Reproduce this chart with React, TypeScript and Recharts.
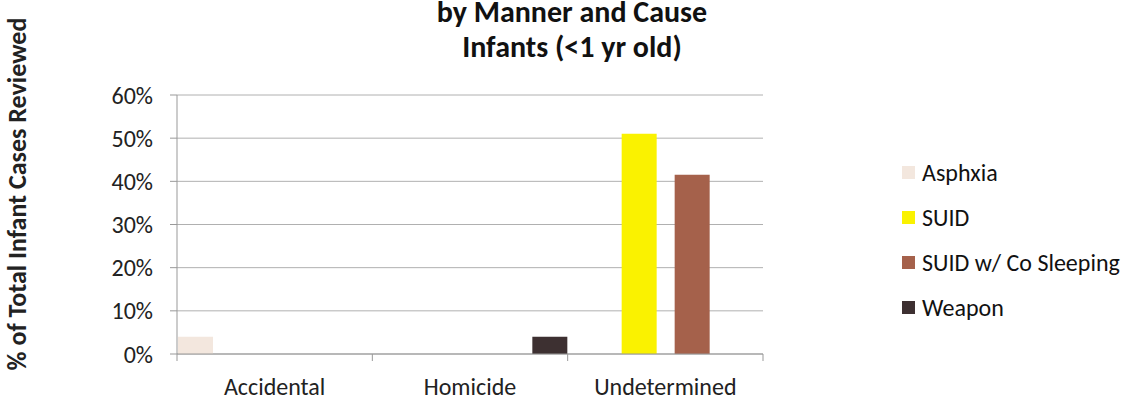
import { BarChart, Bar, XAxis, YAxis, CartesianGrid } from 'recharts';

const categories = ['Accidental', 'Homicide', 'Undetermined'];
const asphxia = [4, 0, 0];
const suid = [0, 0, 51];
const suidCoSleeping = [0, 0, 41.5];
const weapon = [0, 4, 0];
const yTicks = [0, 10, 20, 30, 40, 50, 60];

const seriesKeys = ['asphxia', 'suid', 'suidCo', 'weapon'];
const seriesNames = ['Asphxia', 'SUID', 'SUID w/ Co Sleeping', 'Weapon'];
const seriesColors = ['#f3e7de', '#faf200', '#a5614b', '#3d3031'];

const data = categories.map((c, i) => ({
  name: c,
  asphxia: asphxia[i],
  suid: suid[i],
  suidCo: suidCoSleeping[i],
  weapon: weapon[i],
}));

const FONT = 'Carlito, Calibri, Lato, sans-serif';
const TICK_SIZE = 7;
const TICK_MARGIN = 17;

// category label plus tick marks on the band edges (Excel style)
const CategoryTick = (props: any) => {
  const { x, y, payload, index, visibleTicksCount } = props;
  const half = payload.offset || 0;
  const axisY = y - TICK_SIZE - TICK_MARGIN;
  const last = index === visibleTicksCount - 1;
  return (
    <g>
      <line x1={x - half} x2={x - half} y1={axisY} y2={axisY + TICK_SIZE} stroke="#999" />
      {last && <line x1={x + half} x2={x + half} y1={axisY} y2={axisY + TICK_SIZE} stroke="#999" />}
      <text x={x} y={y} dy="0.71em" textAnchor="middle" fill="#222" fontSize={24} fontFamily={FONT}>
        {payload.value}
      </text>
    </g>
  );
};

export default function App() {
  return (
    <div style={{ position: 'absolute', left: 0, top: 0, width: 1135, height: 400, background: '#fff', overflow: 'hidden', fontFamily: FONT }}>
      <div style={{ position: 'absolute', left: 322, width: 500, top: -6, textAlign: 'center', fontWeight: 700, fontSize: 30, color: '#111', lineHeight: '35px' }}>
        <div>by Manner and Cause</div>
        <div>Infants (&lt;1 yr old)</div>
      </div>
      <div
        style={{
          position: 'absolute',
          left: 17,
          top: 194,
          transform: 'translate(-50%, -50%) rotate(-90deg)',
          whiteSpace: 'nowrap',
          fontWeight: 700,
          fontSize: 26,
          color: '#222',
        }}
      >
        % of Total Infant Cases Reviewed
      </div>
      <div style={{ position: 'absolute', left: 902, top: 150 }}>
        {seriesNames.map((n, i) => (
          <div key={n} style={{ display: 'flex', alignItems: 'center', height: 45, fontSize: 24, color: '#111' }}>
            <span style={{ width: 13, height: 13, background: seriesColors[i], display: 'inline-block', marginRight: 7 }} />
            <span>{n}</span>
          </div>
        ))}
      </div>
      <BarChart
        width={1135}
        height={400}
        data={data}
        margin={{ top: 95, right: 372, bottom: 0, left: 0 }}
        barCategoryGap={0}
        barGap={18}
        barSize={35}
      >
        <CartesianGrid vertical={false} stroke="#b0b0b0" />
        <XAxis
          dataKey="name"
          tickLine={false}
          axisLine={{ stroke: '#999' }}
          tick={<CategoryTick />}
          tickSize={TICK_SIZE}
          tickMargin={TICK_MARGIN}
          height={46}
          interval={0}
        />
        <YAxis
          width={177}
          domain={[0, 60]}
          ticks={yTicks}
          tickFormatter={(v) => `${v}%`}
          tick={{ fill: '#222', fontSize: 24, fontFamily: FONT }}
          tickSize={7}
          tickMargin={17}
          stroke="#999"
        />
        {seriesKeys.map((k, i) => (
          <Bar key={k} dataKey={k} name={seriesNames[i]} fill={seriesColors[i]} isAnimationActive={false} />
        ))}
      </BarChart>
    </div>
  );
}
